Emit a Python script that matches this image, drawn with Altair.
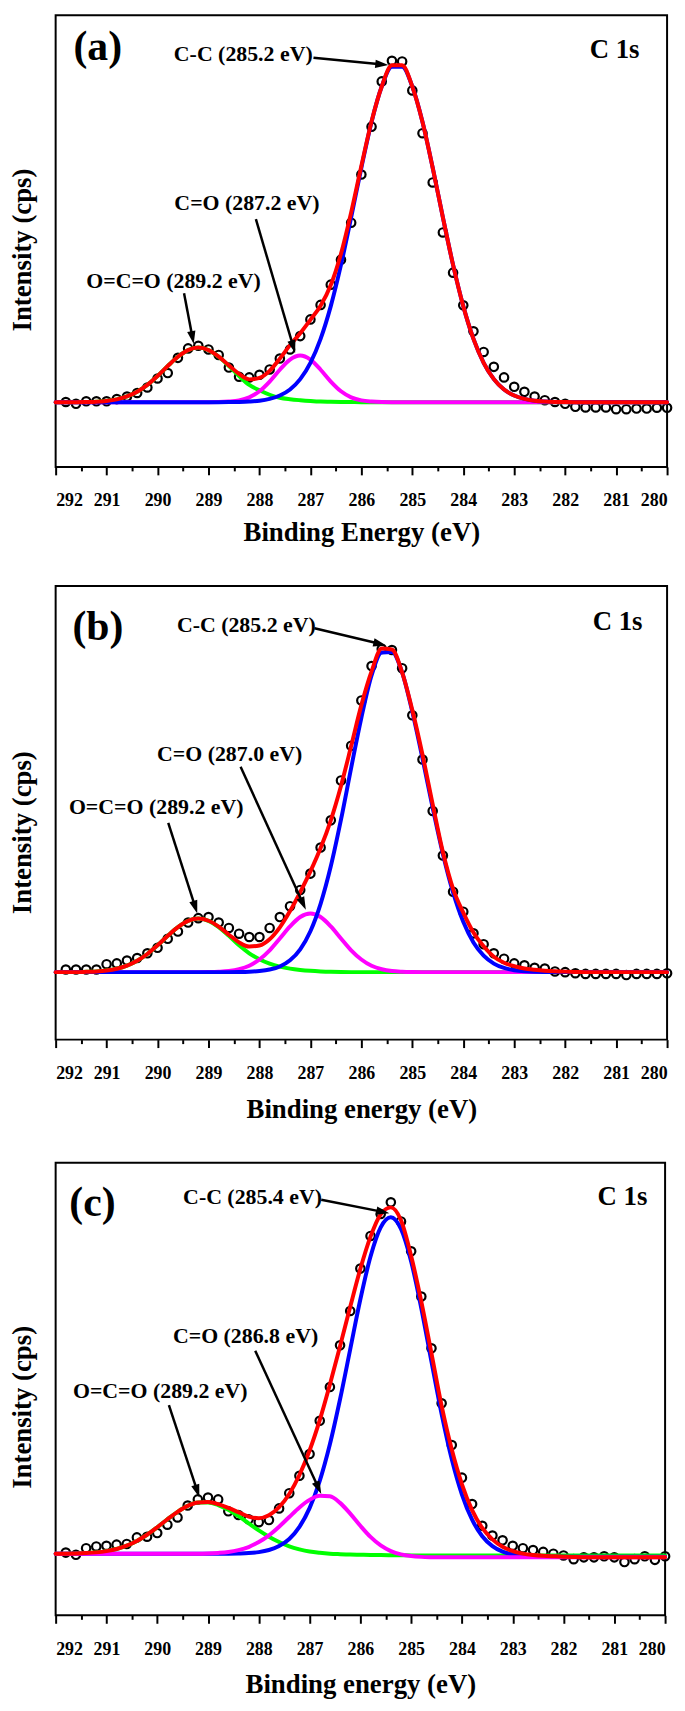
import math
import altair as alt
import pandas as pd

FONT = "Liberation Serif"

# Binding-energy sampling of the fitted curves and of the measured points
ENERGY_FIT = [round(292.0 - 0.2 * k, 1) for k in range(61)]
ENERGY_PTS = [round(291.8 - 0.2 * k, 1) for k in range(60)]
MAJOR_TICKS = list(range(280, 293))
MINOR_TICKS = [280.5 + i for i in range(12)]

# ---------------- panel (a) ----------------
A_PTS = [0.2, -1.6, 0.9, 0.9, 0.9, 3.1, 5.7, 9.3, 14.8, 23.9,
         29.4, 44.7, 54.2, 56.8, 53.1, 47.6, 34.9, 25.7, 25.0, 27.6,
         33.0, 44.0, 53.1, 66.6, 83.4, 98.0, 118.4, 143.6, 180.8, 229.4,
         277.6, 323.2, 344.0, 343.3, 314.1, 271.0, 221.4, 171.0, 130.5, 97.6,
         71.4, 50.6, 35.6, 25.0, 15.5, 10.4, 5.7, 2.0, 0.2, -1.6,
         -4.6, -5.3, -5.3, -5.3, -7.1, -7.1, -6.4, -6.4, -5.6, -5.6]
A_GREEN = [0, 0, 0, 0.2, 0.5, 1.3, 2.9, 5.8, 10.5, 17.4,
           26.4, 36.4, 45.8, 52.5, 55.0, 52.5, 45.8, 36.4, 26.4, 17.4,
           12.0, 7.5, 4.5, 3.0, 2.0, 1.2, 0.6, 0.4, 0.2, 0.1,
           0, 0, 0, 0, 0, 0, 0, 0, 0, 0,
           0, 0, 0, 0, 0, 0, 0, 0, 0, 0,
           0, 0, 0, 0, 0, 0, 0, 0, 0, 0,
           0]
A_MAGENTA = [0, 0, 0, 0, 0, 0, 0, 0, 0, 0,
             0, 0, 0, 0, 0, 0, 0.1, 0.6, 1.8, 4.9,
             11.0, 20.8, 32.7, 42.9, 47.0, 42.9, 32.7, 20.8, 11.0, 4.9,
             1.8, 0.6, 0.1, 0, 0, 0, 0, 0, 0, 0,
             0, 0, 0, 0, 0, 0, 0, 0, 0, 0,
             0, 0, 0, 0, 0, 0, 0, 0, 0, 0,
             0]
A_BLUE = [0, 0, 0, 0, 0, 0, 0, 0, 0, 0,
          0, 0, 0, 0, 0, 0, 0, 0.1, 0.3, 0.7,
          1.5, 3.3, 6.7, 12.8, 23.2, 39.7, 63.8, 96.8, 138.3, 186.2,
          236.2, 282.3, 318.0, 338.0, 338.0, 318.0, 282.3, 236.2, 186.2, 138.3,
          96.8, 63.8, 39.7, 23.2, 12.8, 6.7, 3.3, 1.5, 0.7, 0.3,
          0.1, 0, 0, 0, 0, 0, 0, 0, 0, 0,
          0]
A_RED = [0, 0, 0, 0.2, 0.5, 1.3, 2.9, 5.8, 10.5, 17.4,
         26.4, 36.4, 45.8, 52.5, 55.0, 52.5, 45.9, 37.1, 28.5, 23.0,
         24.5, 31.6, 43.9, 57.5, 69.5, 83.0, 97.1, 118.0, 149.5, 191.2,
         238.0, 282.9, 318.1, 339.5, 339.5, 318.0, 282.3, 236.2, 186.2, 138.3,
         96.8, 63.8, 39.7, 23.2, 12.8, 6.7, 3.3, 1.5, 0.7, 0.3,
         0.1, 0, 0, 0, 0, 0, 0, 0, 0, 0,
         0]
A_TEXT = ["C-C (285.2 eV)", "C=O (287.2 eV)", "O=C=O (289.2 eV)", "C 1s", "(a)"]
A_TEXT_E = [289.68, 289.67, 291.40, 281.52, 291.65]
A_TEXT_V = [350.6, 201.0, 122.5, 355.0, 358.0]
A_ARROW_E0 = [286.94, 288.07, 289.48]
A_ARROW_V0 = [347.0, 184.5, 109.7]
A_ARROW_E1 = [285.47, 287.30, 289.29]
A_ARROW_V1 = [339.6, 49.5, 58.6]

# ---------------- panel (b) ----------------
B_PTS = [2.6, 2.6, 2.6, 2.6, 8.0, 8.8, 11.7, 14.2, 19.0, 24.5,
         33.6, 40.9, 50.0, 54.4, 55.5, 50.0, 44.5, 38.7, 35.4, 35.4,
         44.5, 55.5, 66.4, 82.8, 99.3, 125.5, 152.9, 193.1, 228.1, 273.7,
         308.4, 325.5, 324.5, 306.2, 258.8, 214.2, 162.4, 117.5, 81.0, 60.9,
         39.1, 28.1, 19.0, 13.5, 8.8, 6.9, 4.4, 3.6, 0.7, 0.0,
         -1.1, -1.8, -1.8, -1.8, -1.8, -2.9, -1.8, -1.8, -1.8, -1.1]
B_GREEN = [0, 0, 0, 0.3, 0.7, 1.6, 3.4, 6.5, 11.4, 18.3,
           27.0, 36.6, 45.4, 51.7, 54.0, 51.7, 45.4, 36.6, 27.0, 19.0,
           13.0, 8.5, 5.5, 3.5, 2.2, 1.3, 0.7, 0.3, 0.1, 0,
           0, 0, 0, 0, 0, 0, 0, 0, 0, 0,
           0, 0, 0, 0, 0, 0, 0, 0, 0, 0,
           0, 0, 0, 0, 0, 0, 0, 0, 0, 0,
           0]
B_MAGENTA = [0, 0, 0, 0, 0, 0, 0, 0, 0, 0,
             0, 0, 0, 0, 0, 0.1, 0.4, 1.1, 2.9, 6.4,
             12.7, 22.0, 33.9, 46.1, 55.5, 59.0, 55.5, 46.1, 33.9, 22.0,
             12.7, 6.4, 2.9, 1.1, 0.4, 0.1, 0, 0, 0, 0,
             0, 0, 0, 0, 0, 0, 0, 0, 0, 0,
             0, 0, 0, 0, 0, 0, 0, 0, 0, 0,
             0]
B_BLUE = [0, 0, 0, 0, 0, 0, 0, 0, 0, 0,
          0, 0, 0, 0, 0, 0, 0, 0, 0.1, 0.4,
          1.1, 2.6, 5.7, 11.9, 23.0, 41.2, 68.8, 106.6, 153.6, 205.8,
          256.3, 299.0, 322.0, 322.5, 302.0, 262.2, 215.3, 165.5, 119.1, 80.3,
          50.7, 29.9, 16.6, 8.6, 4.2, 1.9, 0.8, 0.3, 0.1, 0,
          0, 0, 0, 0, 0, 0, 0, 0, 0, 0,
          0]
B_RED = [0, 0, 0, 0.3, 0.7, 1.6, 3.4, 6.5, 11.4, 18.3,
         27.0, 36.6, 45.4, 51.7, 54.0, 51.8, 45.8, 37.7, 30.0, 25.8,
         26.8, 33.1, 45.1, 61.5, 80.7, 101.5, 125.0, 153.0, 187.6, 227.8,
         269.0, 303.0, 326.0, 325.0, 302.0, 264.0, 219.0, 169.0, 121.0, 84.0,
         60.0, 40.0, 26.0, 15.5, 9.5, 6.0, 3.6, 2.4, 1.5, 0.9,
         0.5, 0.2, 0, 0, 0, 0, 0, 0, 0, 0,
         0]
B_TEXT = ["C-C (285.2 eV)", "C=O (287.0 eV)", "O=C=O (289.2 eV)", "C 1s", "(b)"]
B_TEXT_E = [289.62, 290.01, 291.74, 281.46, 291.67]
B_TEXT_V = [349.3, 219.7, 166.8, 353.0, 348.0]
B_ARROW_E0 = [286.92, 288.37, 289.79]
B_ARROW_V0 = [346.4, 206.9, 150.4]
B_ARROW_E1 = [285.51, 287.09, 289.22]
B_ARROW_V1 = [329.2, 62.8, 59.1]

# ---------------- panel (c) ----------------
C_PTS = [2.2, 0.0, 6.6, 8.4, 9.1, 10.2, 10.9, 17.5, 18.2, 21.9,
         30.3, 37.6, 49.6, 55.8, 57.7, 55.8, 43.8, 40.1, 35.8, 32.8,
         35.0, 46.7, 62.0, 79.6, 101.5, 135.0, 169.0, 211.0, 245.6, 288.3,
         321.2, 343.4, 355.1, 335.8, 305.8, 260.2, 208.0, 152.6, 110.6, 77.7,
         51.1, 29.2, 19.3, 14.6, 9.1, 6.6, 4.7, 2.9, 1.1, -0.7,
         -4.4, -2.6, -2.6, -1.5, -2.6, -7.3, -4.4, -1.5, -5.1, -1.5]
C_GREEN = [1.0, 1.1, 1.3, 1.7, 2.4, 3.7, 5.8, 9.2, 14.0, 20.2,
           27.7, 35.8, 43.3, 49.3, 52.6, 52.7, 50.1, 45.3, 38.9, 31.7,
           24.6, 18.2, 12.8, 8.5, 5.5, 3.3, 2.0, 1.1, 0.6, 0.2,
           0.0, -0.2, -0.3, -0.4, -0.5, -0.6, -0.7, -0.8, -0.8, -0.8,
           -0.8, -0.8, -0.8, -0.8, -0.8, -0.8, -0.8, -0.8, -0.8, -0.8,
           -0.8, -0.8, -0.8, -0.8, -0.8, -0.8, -0.8, -0.8, -0.8, -0.8,
           -0.8]
C_MAGENTA = [1.0, 1.0, 1.0, 1.0, 1.0, 1.0, 1.0, 1.0, 1.0, 1.0,
             1.0, 1.0, 1.0, 1.0, 1.1, 1.4, 1.9, 2.8, 4.7, 7.8,
             12.8, 19.6, 28.3, 38.1, 47.7, 55.3, 59.4, 58.9, 52.3, 41.5,
             29.2, 18.0, 9.4, 3.7, 0.4, -1.3, -2.1, -2.4, -2.5, -2.5,
             -2.5, -2.5, -2.5, -2.5, -2.5, -2.5, -2.5, -2.5, -2.5, -2.5,
             -2.5, -2.5, -2.5, -2.5, -2.5, -2.5, -2.5, -2.5, -2.5, -2.5,
             -2.5]
C_BLUE = [1.0, 1.0, 1.0, 1.0, 1.0, 1.0, 1.0, 1.0, 1.0, 1.0,
          1.0, 1.0, 1.0, 1.0, 1.0, 1.0, 1.0, 1.1, 1.3, 1.7,
          2.7, 4.8, 8.8, 15.9, 28.1, 47.0, 74.5, 111.4, 156.7, 207.0,
          257.4, 300.5, 329.8, 340.0, 328.2, 295.5, 248.3, 194.5, 141.8, 96.2,
          60.7, 35.3, 18.7, 8.7, 3.1, 0.3, -1.0, -1.6, -1.9, -2.0,
          -2.0, -2.0, -2.0, -2.0, -2.0, -2.0, -2.0, -2.0, -2.0, -2.0,
          -2.0]
C_RED = [1.0, 1.1, 1.3, 1.7, 2.4, 3.7, 5.8, 9.2, 14.0, 20.2,
         27.7, 35.8, 43.3, 49.3, 52.7, 53.1, 51.0, 47.2, 42.9, 38.5,
         36.8, 39.8, 48.0, 61.3, 80.4, 105.0, 135.6, 171.5, 210.1, 249.8,
         288.1, 320.5, 343.0, 350.0, 337.0, 301.0, 255.0, 203.0, 150.0, 106.0,
         71.0, 45.0, 27.0, 15.5, 8.0, 3.8, 1.2, -0.2, -1.0, -1.5,
         -1.9, -2.2, -2.4, -2.4, -2.4, -2.4, -2.4, -2.4, -2.4, -2.4,
         -2.4]
C_TEXT = ["C-C (285.4 eV)", "C=O (286.8 eV)", "O=C=O (289.2 eV)", "C 1s", "(c)"]
C_TEXT_E = [289.49, 289.69, 291.66, 281.33, 291.73]
C_TEXT_V = [360.6, 220.0, 165.3, 360.6, 354.4]
C_ARROW_E0 = [286.77, 288.07, 289.77]
C_ARROW_V0 = [357.7, 205.5, 150.7]
C_ARROW_E1 = [285.43, 286.77, 289.17]
C_ARROW_V1 = [344.2, 61.3, 57.7]

TEXT_SIZES = [22, 22, 22, 27, 42]

COLORS = {"green": "#00ff00", "magenta": "#ff00ff", "blue": "#0000ff", "red": "#ff0000"}
HEAD = "M0,0L-0.7,2.2L0.7,2.2Z"

PANELS = [
    dict(pts=A_PTS, green=A_GREEN, magenta=A_MAGENTA, blue=A_BLUE, red=A_RED,
         text=A_TEXT, te=A_TEXT_E, tv=A_TEXT_V,
         ae0=A_ARROW_E0, av0=A_ARROW_V0, ae1=A_ARROW_E1, av1=A_ARROW_V1,
         order=["green", "magenta", "blue", "red"],
         xtitle="Binding Energy (eV)", w=616, h=455, ydom=[-65.2, 389.8],
         yty=236, xtp=10),
    dict(pts=B_PTS, green=B_GREEN, magenta=B_MAGENTA, blue=B_BLUE, red=B_RED,
         text=B_TEXT, te=B_TEXT_E, tv=B_TEXT_V,
         ae0=B_ARROW_E0, av0=B_ARROW_V0, ae1=B_ARROW_E1, av1=B_ARROW_V1,
         order=["green", "magenta", "blue", "red"],
         xtitle="Binding energy (eV)", w=616, h=457, ydom=[-68.0, 389.0],
         yty=248, xtp=14),
    dict(pts=C_PTS, green=C_GREEN, magenta=C_MAGENTA, blue=C_BLUE, red=C_RED,
         text=C_TEXT, te=C_TEXT_E, tv=C_TEXT_V,
         ae0=C_ARROW_E0, av0=C_ARROW_V0, ae1=C_ARROW_E1, av1=C_ARROW_V1,
         order=["green", "blue", "magenta", "red"],
         xtitle="Binding energy (eV)", w=614, h=456, ydom=[-61.0, 395.0],
         yty=246, xtp=14),
]


def make_panel(p):
    W, H = p["w"], p["h"]
    y0, y1 = p["ydom"]
    px_e = W / 12.0
    px_v = H / (y1 - y0)
    xs = alt.Scale(domain=[280, 292], reverse=True, nice=False, zero=False)
    ys = alt.Scale(domain=[y0, y1], nice=False, zero=False)

    major = alt.Axis(
        values=MAJOR_TICKS, format="d", orient="bottom", title=p["xtitle"],
        grid=False, domain=False, tickSize=8, tickWidth=2, tickColor="black",
        labelPadding=17, labelOverlap=False, labelFontSize=18,
        titleFontSize=27, titlePadding=p["xtp"],
    )
    minor = alt.Axis(
        values=MINOR_TICKS, orient="bottom", title=None, labels=False,
        grid=False, domain=False, tickSize=4, tickWidth=2, tickColor="black",
    )
    yaxis = alt.Axis(
        title="Intensity (cps)", labels=False, ticks=False, domain=False, grid=False,
        titleFontSize=27, titlePadding=19, titleY=p["yty"],
    )

    def X(field, axis=None):
        return alt.X(field, type="quantitative", scale=xs, axis=axis)

    def Y(field):
        return alt.Y(field, type="quantitative", scale=ys, axis=yaxis)

    pts = pd.DataFrame({"eV": ENERGY_PTS, "v": p["pts"]})
    layers = [
        alt.Chart(pts).mark_point(shape="circle", filled=False, size=72, strokeWidth=2.2,
                                  color="black", opacity=1).encode(
            x=X("eV", major), y=Y("v"))
    ]
    for name in p["order"]:
        df = pd.DataFrame({"eV": ENERGY_FIT, "v": p[name]})
        layers.append(
            alt.Chart(df).mark_line(color=COLORS[name], strokeWidth=4,
                                    interpolate="monotone", strokeCap="round").encode(
                x=X("eV", minor if name == "red" else None), y=Y("v"))
        )

    # arrows: shaft shortened so the head covers its end
    rows = []
    for e0, v0, e1, v1 in zip(p["ae0"], p["av0"], p["ae1"], p["av1"]):
        dx = -(e1 - e0) * px_e
        dy = -(v1 - v0) * px_v
        L = math.hypot(dx, dy)
        ang = math.degrees(math.atan2(dx, -dy)) % 360
        cut = 8.0 / L
        rows.append(dict(e0=e0, v0=v0, e1=e1, v1=v1,
                         es=e1 - (e1 - e0) * cut, vs=v1 - (v1 - v0) * cut, ang=ang))
    arr = pd.DataFrame(rows)
    layers.append(
        alt.Chart(arr).mark_rule(color="black", strokeWidth=2.5).encode(
            x=X("e0"), x2="es:Q", y=Y("v0"), y2="vs:Q")
    )
    layers.append(
        alt.Chart(arr).mark_point(shape=HEAD, filled=True, size=144, color="black",
                                  opacity=1, strokeWidth=0).encode(
            x=X("e1"), y=Y("v1"), angle=alt.Angle("ang:Q", scale=None))
    )

    txt = pd.DataFrame({"eV": p["te"], "v": p["tv"], "label": p["text"], "fs": TEXT_SIZES})
    layers.append(
        alt.Chart(txt).mark_text(align="left", baseline="middle", font=FONT,
                                 fontWeight="bold", color="black").encode(
            x=X("eV"), y=Y("v"), text="label:N",
            size=alt.Size("fs:Q", scale=None))
    )
    return alt.layer(*layers).resolve_axis(x="independent").properties(width=W, height=H)


chart = alt.vconcat(*[make_panel(p) for p in PANELS], spacing=39).properties(
    padding={"left": 0, "top": 0, "right": 0, "bottom": 0},
    background="white",
).configure_view(
    stroke="black", strokeWidth=2
).configure_axis(
    labelFont=FONT, titleFont=FONT, labelFontWeight="bold", titleFontWeight="bold",
    labelColor="black", titleColor="black",
)

chart.save("out.html", embed_options={"renderer": "svg", "actions": False})
